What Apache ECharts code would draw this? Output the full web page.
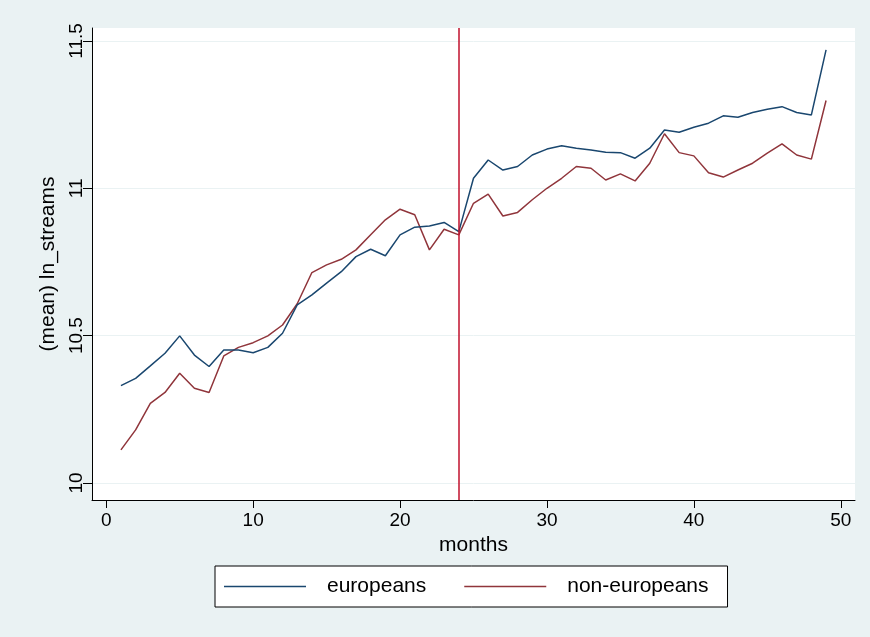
<!DOCTYPE html>
<html>
<head>
<meta charset="utf-8">
<script src="https://cdn.jsdelivr.net/npm/echarts@6/dist/echarts.min.js"></script>
<style>
html,body{margin:0;padding:0;background:#eaf2f3;}
#c{width:870px;height:637px;}
</style>
</head>
<body>
<div id="c"></div>
<script>
const months = [1,2,3,4,5,6,7,8,9,10,11,12,13,14,15,16,17,18,19,20,21,22,23,24,25,26,27,28,29,30,31,32,33,34,35,36,37,38,39,40,41,42,43,44,45,46,47,48,49];
const europeans = [10.330,10.355,10.397,10.440,10.499,10.434,10.395,10.451,10.451,10.442,10.460,10.508,
  10.604,10.638,10.678,10.717,10.768,10.793,10.771,10.842,10.868,10.872,10.884,10.853,
  11.034,11.096,11.062,11.074,11.113,11.133,11.144,11.136,11.130,11.122,11.121,11.102,11.136,
  11.198,11.190,11.207,11.221,11.246,11.241,11.257,11.268,11.277,11.257,11.249,11.470];
const nonEuropeans = [10.112,10.180,10.270,10.307,10.372,10.321,10.307,10.431,10.460,10.476,10.499,10.536,
  10.608,10.714,10.740,10.759,10.791,10.842,10.893,10.929,10.910,10.791,10.861,10.842,
  10.949,10.980,10.906,10.918,10.961,11.000,11.034,11.074,11.068,11.028,11.049,11.025,11.085,
  11.185,11.121,11.110,11.053,11.038,11.062,11.085,11.119,11.151,11.113,11.099,11.298];
const xTicks = [0,10,20,30,40,50];
const yTicks = [10,10.5,11,11.5];
const eventMonth = 24;

const font = 'Liberation Sans, Arial, sans-serif';
const chart = echarts.init(document.getElementById('c'), null, {renderer:'canvas'});
chart.setOption({
  backgroundColor: '#eaf2f3',
  animation: false,
  grid: {left: 92, right: 15, top: 28, bottom: 137, show: true, backgroundColor: '#ffffff', borderWidth: 0},
  xAxis: {
    type: 'value', min: -0.97, max: 50.97,
    name: 'months', nameLocation: 'middle', nameGap: 30,
    nameTextStyle: {fontFamily: font, fontSize: 21, color: '#000'},
    axisLine: {show: true, onZero: false, lineStyle: {color: '#000', width: 1}},
    axisTick: {show: true, length: 8, customValues: xTicks, lineStyle: {color: '#000'}},
    axisLabel: {customValues: xTicks, fontFamily: font, fontSize: 19, color: '#000', margin: 11},
    splitLine: {show: false}
  },
  yAxis: {
    type: 'value', min: 9.942, max: 11.544,
    name: '(mean) ln_streams', nameLocation: 'middle', nameGap: 32, nameRotate: 90,
    nameTextStyle: {fontFamily: font, fontSize: 21, color: '#000'},
    axisLine: {show: true, onZero: false, lineStyle: {color: '#000', width: 1}},
    axisTick: {show: true, length: 9, customValues: yTicks, lineStyle: {color: '#000'}},
    axisLabel: {customValues: yTicks, rotate: 90, fontFamily: font, fontSize: 19, color: '#000', margin: 6},
    splitLine: {show: true, lineStyle: {color: '#eaf2f3', width: 1}}
  },
  legend: {
    left: 215, top: 566,
    backgroundColor: '#ffffff', borderColor: '#000', borderWidth: 1,
    padding: [10, 19, 10, 9],
    icon: 'rect', itemWidth: 82, itemHeight: 1.5, itemGap: 38,
    textStyle: {fontFamily: font, fontSize: 21, color: '#000', padding: [0, 0, 0, 16]},
    data: ['europeans', 'non-europeans']
  },
  series: [
    {
      name: 'europeans', type: 'line', symbol: 'none',
      data: months.map((m, i) => [m, europeans[i]]),
      lineStyle: {color: '#1a476f', width: 1.5}, itemStyle: {color: '#1a476f'},
      z: 3
    },
    {
      name: 'non-europeans', type: 'line', symbol: 'none',
      data: months.map((m, i) => [m, nonEuropeans[i]]),
      lineStyle: {color: '#90353b', width: 1.5}, itemStyle: {color: '#90353b'},
      markLine: {
        silent: true, symbol: 'none', label: {show: false},
        lineStyle: {color: '#c0102c', width: 1.5, type: 'solid'},
        data: [{xAxis: eventMonth}]
      },
      z: 2
    }
  ]
});
</script>
</body>
</html>
